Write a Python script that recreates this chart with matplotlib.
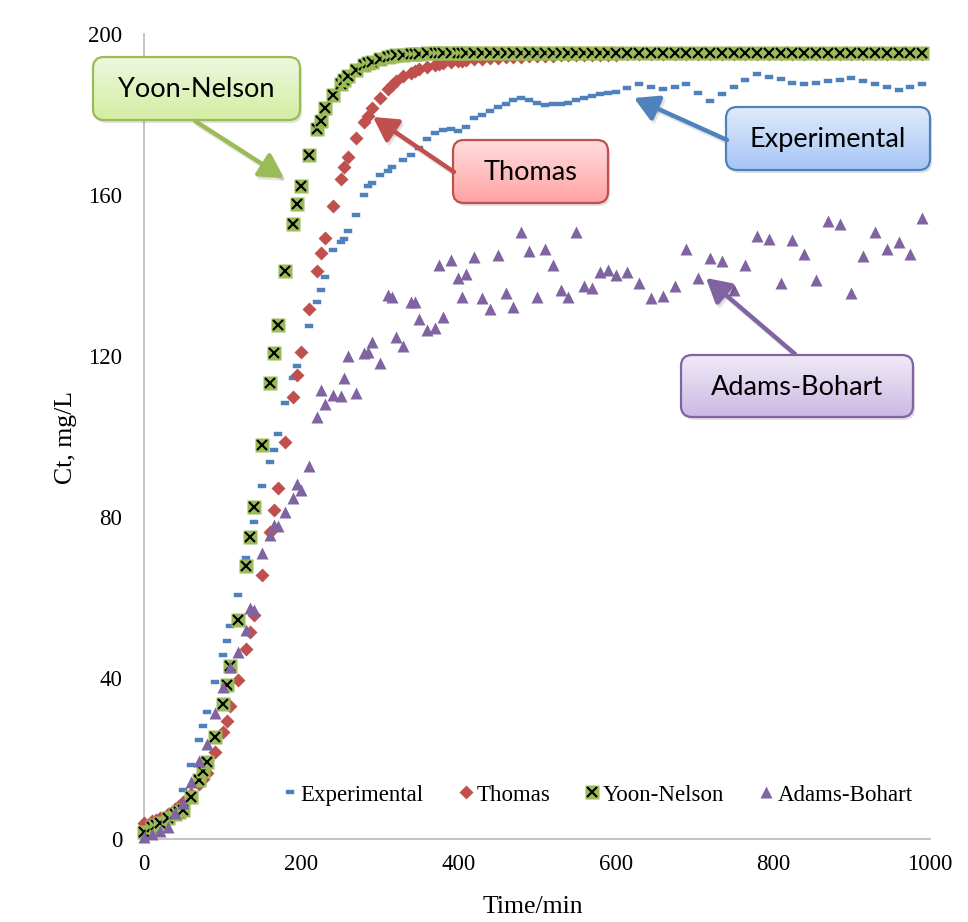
import matplotlib
matplotlib.use("Agg")
import matplotlib.pyplot as plt
import numpy as np
from matplotlib.patches import FancyBboxPatch, FancyArrowPatch, ArrowStyle
from matplotlib.path import Path
from matplotlib.lines import Line2D
from matplotlib.legend_handler import HandlerTuple
from matplotlib.colors import LinearSegmentedColormap

# ---------------- data ----------------
exp_time = [0, 10, 20, 30, 40, 45, 50, 60, 70, 75, 80, 90, 100, 105, 110, 120, 130, 140, 150, 160,
            165, 170, 180, 190, 195, 210, 220, 225, 230, 240, 250, 255, 260, 270, 280, 285, 290, 300, 310, 315,
            330, 340, 350, 360, 370, 380, 390, 400, 410, 420, 430, 440, 450, 460, 470, 480, 490, 500, 510, 520,
            530, 540, 550, 560, 570, 580, 590, 600, 615, 630, 645, 660, 675, 690, 705, 720, 735, 750, 765, 780,
            795, 810, 825, 840, 855, 870, 885, 900, 915, 930, 945, 960, 975, 990]
exp_ct = [1.0, 1.5, 3.0, 4.5, 7.0, 8.5, 12.2, 18.4, 24.7, 28.0, 31.6, 38.9, 45.7, 49.2, 52.8, 60.5, 69.7, 78.7, 87.7, 93.6,
          96.6, 100.5, 108.2, 114.5, 117.5, 127.5, 133.5, 136.4, 139.7, 146.3, 148.2, 149.0, 151.0, 155.0, 160.0, 162.3, 163.0, 165.0, 166.0, 167.0,
          168.7, 169.9, 171.8, 174.0, 175.4, 176.2, 176.3, 176.0, 176.9, 179.1, 179.9, 180.9, 181.9, 182.7, 183.5, 184.2, 183.5, 182.9, 182.4, 182.5,
          182.7, 182.9, 183.5, 184.2, 184.7, 185.1, 185.4, 185.6, 186.5, 187.6, 186.9, 186.3, 186.9, 187.7, 185.4, 183.3, 185.0, 186.8, 188.5, 190.1,
          189.4, 188.7, 187.9, 187.6, 187.9, 188.4, 188.6, 189.0, 188.3, 187.7, 186.9, 186.2, 186.9, 187.7]

model_time = [0, 10, 15, 20, 30, 40, 45, 50, 60, 70, 75, 80, 90, 100, 105, 110, 120, 130, 135, 140,
              150, 160, 165, 170, 180, 190, 195, 200, 210, 220, 225, 230, 240, 250, 255, 260, 270, 280, 285, 290,
              300, 310, 315, 320, 330, 340, 345, 350, 360, 370, 375, 380, 390, 400, 405, 410, 420, 430, 440, 450,
              460, 470, 480, 490, 500, 510, 520, 530, 540, 550, 560, 570, 580, 590, 600, 615, 630, 645, 660, 675,
              690, 705, 720, 735, 750, 765, 780, 795, 810, 825, 840, 855, 870, 885, 900, 915, 930, 945, 960, 975, 990]
thomas_ct = [4.0, 4.5, 4.8, 5.3, 6.3, 7.5, 8.2, 9.2, 11.3, 13.6, 14.9, 16.4, 21.7, 26.5, 29.4, 33.0, 39.4, 47.2, 51.5, 55.7,
             65.7, 76.3, 81.7, 87.2, 98.7, 109.9, 115.4, 120.9, 131.8, 141.1, 145.5, 149.4, 157.3, 163.9, 167.0, 169.5, 174.2, 178.2, 179.6, 181.5,
             184.0, 186.3, 187.3, 188.3, 189.5, 190.4, 190.8, 191.2, 191.8, 192.3, 192.5, 192.7, 193.0, 193.3, 193.4, 193.5, 193.7, 193.9, 194.0, 194.1,
             194.2, 194.3, 194.4, 194.5, 194.5, 194.6, 194.6, 194.7, 194.7, 194.8, 194.8, 194.8, 194.9, 194.9, 194.9, 195.0, 195.0, 195.0, 195.0, 195.0,
             195.0, 195.0, 195.0, 195.0, 195.0, 195.0, 195.0, 195.0, 195.0, 195.0, 195.0, 195.0, 195.0, 195.0, 195.0, 195.0, 195.0, 195.0, 195.0, 195.0, 195.0]
yoon_ct = [1.8, 3.0, 3.4, 3.9, 5.1, 6.2, 6.7, 7.3, 10.5, 14.6, 16.8, 19.2, 25.4, 33.5, 38.2, 43.0, 54.5, 67.8, 75.1, 82.4,
           97.9, 113.2, 120.7, 127.7, 141.1, 152.7, 157.7, 162.3, 170.0, 176.3, 178.5, 181.5, 184.8, 187.7, 188.6, 189.5, 191.0, 192.2, 192.7, 193.1,
           193.8, 194.3, 194.5, 194.7, 194.9, 195.0, 195.1, 195.1, 195.2, 195.2, 195.2, 195.2, 195.2, 195.2, 195.2, 195.2, 195.2, 195.2, 195.2, 195.2,
           195.2, 195.2, 195.2, 195.2, 195.2, 195.2, 195.2, 195.2, 195.2, 195.2, 195.2, 195.2, 195.2, 195.2, 195.2, 195.2, 195.2, 195.2, 195.2, 195.2,
           195.2, 195.2, 195.2, 195.2, 195.2, 195.2, 195.2, 195.2, 195.2, 195.2, 195.2, 195.2, 195.2, 195.2, 195.2, 195.2, 195.2, 195.2, 195.2, 195.2, 195.2]

ab_time = [0, 10, 20, 30, 40, 50, 60, 70, 80, 90, 100, 110, 120, 130, 135, 140, 150, 160, 165, 170,
           180, 190, 195, 200, 210, 220, 225, 230, 240, 250, 255, 260, 270, 280, 285, 290, 300, 310, 315, 320,
           330, 340, 345, 350, 360, 370, 375, 380, 390, 400, 405, 410, 420, 430, 440, 450, 460, 470, 480, 490,
           500, 510, 520, 530, 540, 550, 560, 570, 580, 590, 600, 615, 630, 645, 660, 675, 690, 705, 720, 735,
           750, 765, 780, 795, 810, 825, 840, 855, 870, 885, 900, 915, 930, 945, 960, 975, 990]
ab_ct = [0.5, 1.3, 2.0, 3.0, 6.4, 9.0, 14.2, 19.4, 23.5, 31.4, 37.8, 42.8, 46.5, 51.9, 57.3, 57.0, 71.0, 75.5, 78.0, 77.7,
         81.2, 84.8, 88.3, 86.6, 92.7, 104.9, 111.5, 108.1, 110.2, 110.1, 114.5, 120.0, 110.7, 120.7, 121.1, 123.6, 118.2, 135.2, 134.7, 124.8,
         122.6, 133.3, 133.3, 129.2, 126.5, 127.0, 142.6, 129.8, 143.9, 139.3, 134.6, 140.4, 144.5, 134.3, 131.8, 145.0, 135.6, 132.2, 150.9, 146.2,
         134.7, 146.6, 142.6, 136.4, 134.7, 150.7, 137.4, 136.8, 140.9, 141.4, 140.1, 140.9, 138.2, 134.5, 135.0, 137.4, 146.5, 139.3, 144.3, 143.6,
         136.4, 142.6, 149.8, 149.1, 138.2, 148.8, 145.3, 138.9, 153.5, 152.7, 135.6, 144.8, 150.7, 146.6, 148.4, 145.3, 154.2]

x_ticks = [0, 200, 400, 600, 800, 1000]
y_ticks = [0, 40, 80, 120, 160, 200]
series_names = ["Experimental", "Thomas", "Yoon-Nelson", "Adams-Bohart"]

# ---------------- style ----------------
BLUE = "#4F81BD"
RED = "#C0504D"
GREEN = "#9BBB59"
PURPLE = "#8064A2"
SERIF = "Liberation Serif"

W, H = 968, 922
fig = plt.figure(figsize=(W / 100, H / 100), dpi=100)
fig.patch.set_facecolor("white")

ax = fig.add_axes([144 / W, 1 - 839 / H, (930 - 144) / W, (839 - 34) / H])
ax.set_xlim(0, 1000)
ax.set_ylim(0, 200)
ax.set_xticks(x_ticks)
ax.set_yticks(y_ticks)
ax.tick_params(length=0, labelsize=16.5)
ax.tick_params(axis="y", pad=15.5)
ax.tick_params(axis="x", pad=11)
for lab in ax.get_xticklabels() + ax.get_yticklabels():
    lab.set_fontfamily(SERIF)
for s in ["top", "right"]:
    ax.spines[s].set_visible(False)
for s in ["left", "bottom"]:
    ax.spines[s].set_color("#BFBFBF")
    ax.spines[s].set_linewidth(1.3)

dash = Path([(-1, -0.38), (1, -0.38), (1, 0.38), (-1, 0.38), (-1, -0.38)],
            [Path.MOVETO, Path.LINETO, Path.LINETO, Path.LINETO, Path.CLOSEPOLY])

ax.plot(exp_time, exp_ct, ls="none", marker=dash, ms=5.8, mfc=BLUE, mec=BLUE, mew=0.3,
        zorder=3, clip_on=False)
ax.plot(model_time, thomas_ct, ls="none", marker="D", ms=6.8, mfc=RED, mec="none",
        zorder=4, clip_on=False)
for i, (t, v) in enumerate(zip(model_time, yoon_ct)):
    z = 5 + i * 0.002
    ax.plot([t], [v], ls="none", marker="s", ms=9.5, mfc=GREEN, mec="none", zorder=z, clip_on=False)
    ax.plot([t], [v], ls="none", marker="x", ms=7.8, mec="black", mew=1.5, zorder=z + 0.001, clip_on=False)
ax.plot(ab_time, ab_ct, ls="none", marker="^", ms=8.7, mfc=PURPLE, mec="none",
        zorder=6, clip_on=False)

# legend
h_exp = Line2D([], [], ls="none", marker=dash, ms=5.8, mfc=BLUE, mec=BLUE, mew=0.3)
h_th = Line2D([], [], ls="none", marker="D", ms=7.2, mfc=RED, mec="none")
h_yn1 = Line2D([], [], ls="none", marker="s", ms=9.5, mfc=GREEN, mec="none")
h_yn2 = Line2D([], [], ls="none", marker="x", ms=7.8, mec="black", mew=1.5)
h_ab = Line2D([], [], ls="none", marker="^", ms=8.7, mfc=PURPLE, mec="none")
leg = ax.legend([h_exp, h_th, (h_yn1, h_yn2), h_ab], series_names,
                handler_map={tuple: HandlerTuple(ndivide=1, pad=0)},
                ncol=4, loc="center", bbox_to_anchor=(598 / W, 1 - 795 / H),
                bbox_transform=fig.transFigure, frameon=False,
                prop={"family": SERIF, "size": 16.5}, handlelength=0.55,
                handletextpad=0.2, columnspacing=1.55)
leg.set_zorder(10)

# axis labels
fig.text(66 / W, 1 - 437 / H, "Ct, mg/L", rotation=90, ha="center", va="center",
         fontsize=18.5, family=SERIF)
fig.text(533 / W, 1 - 907 / H, "Time/min", ha="center", va="center",
         fontsize=18.5, family=SERIF)

# ---------------- callouts (overlay in pixel coordinates) ----------------
ov = fig.add_axes([0, 0, 1, 1], zorder=20)
ov.patch.set_alpha(0)
ov.axis("off")


def callout(x0, y0, x1, y1, top, bottom, edge, text, tail, tip):
    w, h = x1 - x0, y1 - y0
    style = "round,pad=0,rounding_size=11"
    ov.add_patch(FancyBboxPatch((x0 + 2, y0 + 3), w, h, boxstyle=style,
                                fc=(0, 0, 0, 0.12), ec="none", zorder=1))
    box = FancyBboxPatch((x0, y0), w, h, boxstyle=style, fc="none", ec=edge, lw=1.6, zorder=3)
    ov.add_patch(box)
    cmap = LinearSegmentedColormap.from_list("g", [top, bottom])
    grad = np.linspace(0, 1, 256)[:, None]
    im = ov.imshow(grad, cmap=cmap, extent=(x0, x1, y1, y0), aspect="auto", zorder=2,
                   interpolation="bilinear")
    im.set_clip_path(box)
    ov.text((x0 + x1) / 2, (y0 + y1) / 2 + 1, text, ha="center", va="center",
            fontsize=19.5, family="Lato", color="black", zorder=4)
    ov.add_patch(FancyArrowPatch((tail[0] + 2, tail[1] + 3), (tip[0] + 2, tip[1] + 3),
                                 arrowstyle=ArrowStyle("-|>", head_length=0.8, head_width=0.45),
                                 mutation_scale=18, lw=3.2, color=(0, 0, 0, 0.10),
                                 shrinkA=0, shrinkB=0, zorder=1))
    ov.add_patch(FancyArrowPatch(tail, tip,
                                 arrowstyle=ArrowStyle("-|>", head_length=0.8, head_width=0.45),
                                 mutation_scale=18, lw=3.2, color=edge,
                                 shrinkA=0, shrinkB=0, zorder=3))


callout(93, 57, 300, 120, "#EEF8DF", "#D3EEA2", GREEN, "Yoon-Nelson", (195, 121), (284, 178))
callout(453, 140, 608, 203, "#FFDEDE", "#FFA2A2", RED, "Thomas", (454, 172), (373, 117))
callout(726, 107, 930, 170, "#E0EAFB", "#A6C6F6", BLUE, "Experimental", (727, 140), (634, 98))
callout(681, 355, 913, 417, "#F0EAF7", "#CBB9E4", PURPLE, "Adams-Bohart", (795, 354), (706, 278))

ov.set_xlim(0, W)
ov.set_ylim(H, 0)

fig.savefig("out.png", dpi=100, facecolor="white")
